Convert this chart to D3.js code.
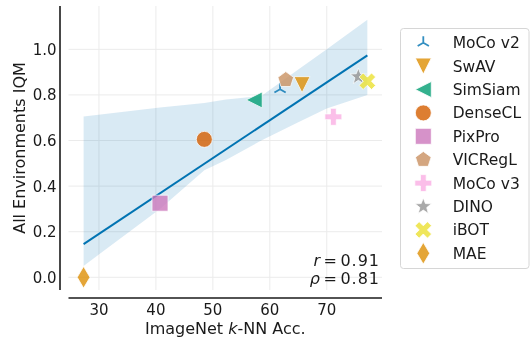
<!DOCTYPE html>
<html>
<head>
<meta charset="utf-8">
<script src="https://cdn.jsdelivr.net/npm/d3@7"></script>
<style>
  body { margin: 0; background: #fff; }
  text { font-family: "DejaVu Sans", sans-serif; fill: #1a1a1a; }
</style>
</head>
<body>
<div id="chart"></div>
<script>
// data
const methods = ["MoCo v2", "SwAV", "SimSiam", "DenseCL", "PixPro", "VICRegL", "MoCo v3", "DINO", "iBOT", "MAE"];
const knnAcc = [61.8, 65.66, 57.26, 48.5, 40.72, 62.8, 71.16, 75.55, 77.13, 27.3];
const iqm = [0.825, 0.845, 0.778, 0.605, 0.325, 0.866, 0.704, 0.88, 0.86, 0.0];
const markers = ["tri_up", "triangle_down", "triangle_left", "circle", "square", "pentagon", "plus", "star", "x", "thin_diamond"];
const colors = ["#0173b2", "#de8f05", "#029e73", "#d55e00", "#cc78bc", "#ca9161", "#fbafe4", "#949494", "#ece133", "#de8f05"];

// bootstrap confidence band
const bandX = [27.3, 40.7, 48.5, 52.3, 58.5, 65, 70, 77.13];
const bandLow = [0.05, 0.30, 0.47, 0.515, 0.60, 0.68, 0.74, 0.80];
const bandHigh = [0.705, 0.745, 0.765, 0.78, 0.795, 0.912, 1.0, 1.13];

const xTicks = [30, 40, 50, 60, 70];
const yTicks = [0, 0.2, 0.4, 0.6, 0.8, 1.0];
const statsText = [["r", "0.91"], ["\u03c1", "0.81"]];

const W = 531, H = 342;
const plot = {left: 68.5, right: 382, top: 6, bottom: 290};

const svg = d3.select("#chart").append("svg")
    .attr("width", W).attr("height", H);

const x = d3.scaleLinear().domain([24.65, 79.7]).range([plot.left, plot.right]);
const y = d3.scaleLinear().domain([-0.0557, 1.19]).range([plot.bottom, plot.top]);

// grid
const grid = svg.append("g").attr("stroke", "#ebebeb").attr("stroke-width", 1);
grid.selectAll("line.v").data(xTicks).join("line")
    .attr("x1", d => x(d)).attr("x2", d => x(d))
    .attr("y1", plot.top).attr("y2", plot.bottom);
grid.selectAll("line.h").data(yTicks).join("line")
    .attr("y1", d => y(d)).attr("y2", d => y(d))
    .attr("x1", plot.left).attr("x2", plot.right);

// confidence band
const band = bandX.map((v, i) => ({x: v, lo: bandLow[i], hi: bandHigh[i]}));
svg.append("path")
    .datum(band)
    .attr("fill", "#0173b2")
    .attr("fill-opacity", 0.15)
    .attr("d", d3.area().x(d => x(d.x)).y0(d => y(d.lo)).y1(d => y(d.hi)));

// least squares fit
const mx = d3.mean(knnAcc), my = d3.mean(iqm);
let sxy = 0, sxx = 0;
knnAcc.forEach((v, i) => { sxy += (v - mx) * (iqm[i] - my); sxx += (v - mx) ** 2; });
const slope = sxy / sxx, icpt = my - slope * mx;
const [xmin, xmax] = d3.extent(knnAcc);
svg.append("line")
    .attr("x1", x(xmin)).attr("y1", y(icpt + slope * xmin))
    .attr("x2", x(xmax)).attr("y2", y(icpt + slope * xmax))
    .attr("stroke", "#0173b2").attr("stroke-width", 2);

// marker shapes
function poly(pts) { return "M" + pts.map(p => p.join(",")).join("L") + "Z"; }
function rot(pts, a) {
  const c = Math.cos(a), s = Math.sin(a);
  return pts.map(([px, py]) => [px * c - py * s, px * s + py * c]);
}
function markerPath(kind) {
  const r = 8;
  switch (kind) {
    case "tri_up": {
      const q = 6.5;
      return `M0,0L0,${-q}M0,0L${-q * 0.866},${q * 0.5}M0,0L${q * 0.866},${q * 0.5}`;
    }
    case "triangle_down": return poly([[0, r], [-r, -r], [r, -r]]);
    case "triangle_left": return poly([[-r, 0], [r, -r], [r, r]]);
    case "circle": return d3.symbol(d3.symbolCircle, Math.PI * r * r)();
    case "square": return poly([[-r, -r], [r, -r], [r, r], [-r, r]]);
    case "pentagon": {
      const R = 8.25;
      return poly(d3.range(5).map(k => {
        const a = -Math.PI / 2 + k * 2 * Math.PI / 5;
        return [R * Math.cos(a), R * Math.sin(a)];
      }));
    }
    case "star": {
      const R = 8.6, ri = R * 0.42;
      return poly(d3.range(10).map(k => {
        const a = -Math.PI / 2 + k * Math.PI / 5, rr = k % 2 ? ri : R;
        return [rr * Math.cos(a), rr * Math.sin(a)];
      }));
    }
    case "plus": case "x": {
      const L = kind === "plus" ? 8.5 : 8.8, t = 2.9;
      let pts = [[t, -L], [t, -t], [L, -t], [L, t], [t, t], [t, L], [-t, L], [-t, t], [-L, t], [-L, -t], [-t, -t], [-t, -L]];
      if (kind === "x") pts = rot(pts, Math.PI / 4);
      return poly(pts);
    }
    case "thin_diamond": return poly([[0, -10.8], [6.4, 0], [0, 10.8], [-6.4, 0]]);
  }
}
function drawMarker(g, kind, color) {
  if (kind === "tri_up") {
    g.append("path").attr("d", markerPath(kind))
      .attr("fill", "none").attr("stroke", color).attr("stroke-width", 1.8);
  } else {
    g.append("path").attr("d", markerPath(kind))
      .attr("fill", color).attr("stroke", "#fff").attr("stroke-width", 0.8)
      .attr("stroke-linejoin", "miter");
  }
}

const pts = svg.append("g").attr("opacity", 0.8);
methods.forEach((m, i) => {
  const g = pts.append("g").attr("transform", `translate(${x(knnAcc[i])},${y(iqm[i])})`);
  drawMarker(g, markers[i], colors[i]);
});

// spines (offset)
svg.append("line").attr("x1", 60).attr("x2", 60).attr("y1", plot.top).attr("y2", plot.bottom)
    .attr("stroke", "#1a1a1a").attr("stroke-width", 1.6);
svg.append("line").attr("x1", plot.left).attr("x2", plot.right).attr("y1", 298).attr("y2", 298)
    .attr("stroke", "#1a1a1a").attr("stroke-width", 1.6);

// tick labels
svg.append("g").selectAll("text").data(xTicks).join("text")
    .attr("x", d => x(d)).attr("y", 315)
    .attr("text-anchor", "middle").attr("font-size", 15)
    .text(d => d);
svg.append("g").selectAll("text").data(yTicks).join("text")
    .attr("x", 56.5).attr("y", d => y(d)).attr("dy", "0.36em")
    .attr("text-anchor", "end").attr("font-size", 15)
    .text(d => d3.format(".1f")(d));

// axis labels
const xl = svg.append("text").attr("x", (plot.left + plot.right) / 2).attr("y", 334)
    .attr("text-anchor", "middle").attr("font-size", 16);
xl.append("tspan").text("ImageNet ");
xl.append("tspan").attr("font-style", "italic").text("k");
xl.append("tspan").text("-NN Acc.");

svg.append("text")
    .attr("transform", `translate(25,${(plot.top + plot.bottom) / 2}) rotate(-90)`)
    .attr("text-anchor", "middle").attr("font-size", 16)
    .text("All Environments IQM");

// correlation annotation
statsText.forEach((s, i) => {
  const t = svg.append("text").attr("x", 380).attr("y", 265.5 + i * 18.8)
      .attr("text-anchor", "end").attr("font-size", 16);
  t.append("tspan").attr("font-style", "italic").text(s[0]);
  t.append("tspan").attr("dx", 3.5).text("=");
  t.append("tspan").attr("dx", 3.5).attr("letter-spacing", 1).text(s[1]);
});

// legend
const lg = svg.append("g");
lg.append("rect").attr("x", 400.5).attr("y", 28.5).attr("width", 128.5).attr("height", 240)
    .attr("rx", 3).attr("fill", "#fff").attr("stroke", "#d6d6d6").attr("stroke-width", 1);
methods.forEach((m, i) => {
  const yy = 42.7 + i * 23.4;
  const g = lg.append("g").attr("opacity", 0.8).attr("transform", `translate(423.3,${yy})`);
  drawMarker(g, markers[i], colors[i]);
  lg.append("text").attr("x", 452.7).attr("y", yy).attr("dy", "0.36em")
      .attr("font-size", 15.5).text(m);
});
</script>
</body>
</html>
